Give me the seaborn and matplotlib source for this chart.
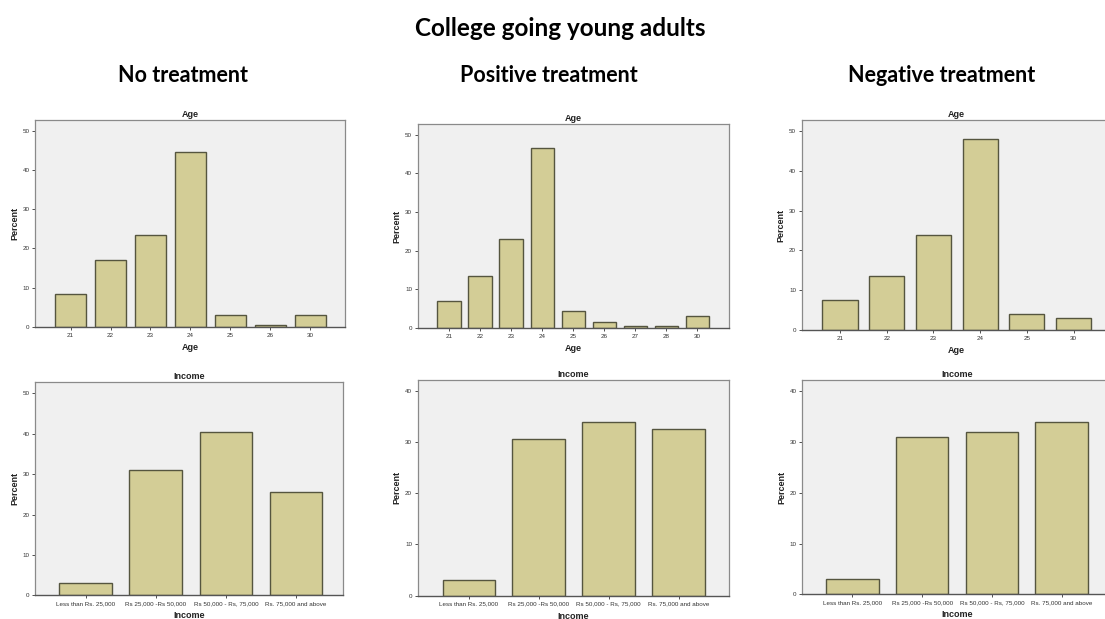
import matplotlib
matplotlib.use("Agg")
import matplotlib.pyplot as plt
import seaborn as sns

sns.set_theme(style="white")
plt.rcParams['font.family'] = ['Liberation Sans', 'DejaVu Sans']

# ---- data ----
age_none_cats = ["21", "22", "23", "24", "25", "26", "30"]
age_none_vals = [8.5, 17.0, 23.5, 44.5, 3.0, 0.5, 3.0]

age_pos_cats = ["21", "22", "23", "24", "25", "26", "27", "28", "30"]
age_pos_vals = [7.0, 13.5, 23.0, 46.5, 4.5, 1.5, 0.5, 0.5, 3.0]

age_neg_cats = ["21", "22", "23", "24", "25", "30"]
age_neg_vals = [7.5, 13.5, 24.0, 48.0, 4.0, 3.0]

income_cats = ["Less than Rs. 25,000", "Rs 25,000 -Rs 50,000",
               "Rs 50,000 - Rs, 75,000", "Rs. 75,000 and above"]
inc_none_vals = [3.0, 31.0, 40.5, 25.5]
inc_pos_vals = [3.0, 30.5, 34.0, 32.5]
inc_neg_vals = [3.0, 31.0, 32.0, 34.0]

main_title = "College going young adults"
col_titles = ["No treatment", "Positive treatment", "Negative treatment"]

BAR = "#d3cd96"
EDGE = "#55553f"
BG = "#f0f0f0"
W, H = 1105, 619

fig = plt.figure(figsize=(W / 100, H / 100), dpi=100)
fig.patch.set_facecolor("white")


def px_axes(left, top, right, bottom):
    return fig.add_axes([left / W, 1 - bottom / H, (right - left) / W, (bottom - top) / H])


def panel(ax, cats, vals, title, xlabel, ymax, yticks, xlim, width):
    sns.barplot(x=cats, y=vals, order=cats, ax=ax, color=BAR, edgecolor=EDGE,
                linewidth=1.0, width=width, saturation=1)
    ax.set_facecolor(BG)
    ax.set_ylim(0, ymax)
    ax.set_xlim(*xlim)
    ax.set_yticks(yticks)
    ax.set_yticklabels([str(t) for t in yticks])
    ax.tick_params(axis="both", which="both", direction="out", length=2.5, width=0.6,
                   labelsize=4.5, colors="#333333", pad=1.5, bottom=True, left=True)
    for s in ["top", "right", "left"]:
        ax.spines[s].set_color("#8a8a8a")
        ax.spines[s].set_linewidth(0.9)
    ax.spines["bottom"].set_color("#555555")
    ax.spines["bottom"].set_linewidth(1.0)
    ax.set_title(title, fontsize=6.5, fontweight="bold", pad=2.5, color="#222222")
    ax.set_xlabel(xlabel, fontsize=6.5, fontweight="bold", labelpad=4, color="#222222")
    ax.set_ylabel("Percent", fontsize=6.5, fontweight="bold", labelpad=2.5, color="#222222")
    ax.grid(False)


ax1 = px_axes(35, 120, 345, 327)
panel(ax1, age_none_cats, age_none_vals, "Age", "Age", 52.7, [0, 10, 20, 30, 40, 50], (-0.89, 6.87), 0.77)

ax2 = px_axes(417.7, 124, 729, 328)
panel(ax2, age_pos_cats, age_pos_vals, "Age", "Age", 52.8, [0, 10, 20, 30, 40, 50], (-1.01, 9.02), 0.75)

ax3 = px_axes(801.7, 120, 1111.8, 330.3)
panel(ax3, age_neg_cats, age_neg_vals, "Age", "Age", 52.7, [0, 10, 20, 30, 40, 50], (-0.82, 5.82), 0.75)

ax4 = px_axes(35, 382, 343, 595.3)
panel(ax4, income_cats, inc_none_vals, "Income", "Income", 52.8, [0, 10, 20, 30, 40, 50], (-0.72, 3.67), 0.75)

ax5 = px_axes(417.7, 380, 729, 595.7)
panel(ax5, income_cats, inc_pos_vals, "Income", "Income", 42.1, [0, 10, 20, 30, 40], (-0.73, 3.72), 0.75)

ax6 = px_axes(802.3, 380, 1111.8, 594.3)
panel(ax6, income_cats, inc_neg_vals, "Income", "Income", 42.2, [0, 10, 20, 30, 40], (-0.72, 3.72), 0.75)

fig.text(560 / W, 1 - 29 / H, main_title, ha="center", va="center",
         fontsize=17.5, fontweight="bold", family=["Lato", "DejaVu Sans"], color="black")
for x, t in zip([183, 549, 942], col_titles):
    fig.text(x / W, 1 - 75 / H, t, ha="center", va="center",
             fontsize=15.5, fontweight="bold", family=["Lato", "DejaVu Sans"], color="black")

fig.savefig("out.png", dpi=100, facecolor="white")
